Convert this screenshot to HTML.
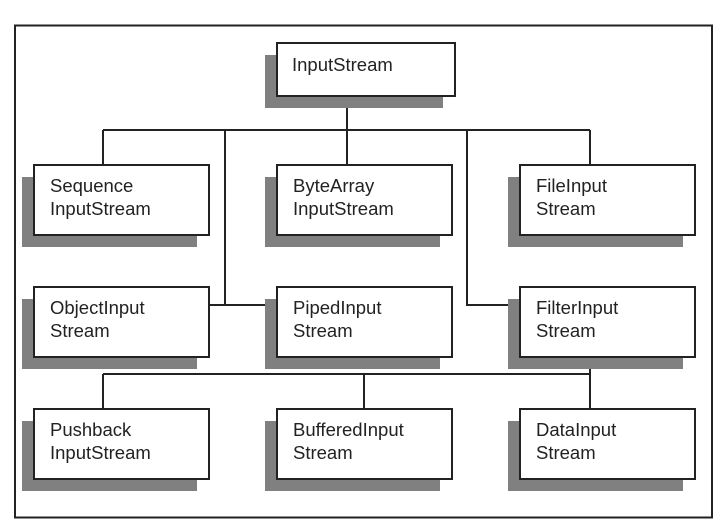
<!DOCTYPE html>
<html><head><meta charset="utf-8"><style>html,body{margin:0;padding:0;background:#fff}svg{display:block}</style></head><body>
<svg width="725" height="531" viewBox="0 0 725 531" xmlns="http://www.w3.org/2000/svg" font-family="Liberation Sans, sans-serif" font-size="18.5" fill="#222">
<rect x="15" y="25.5" width="697" height="492" fill="none" stroke="#222" stroke-width="2"/>
<g fill="none" stroke="#222" stroke-width="2">
<path d="M347 96V165M103 130H590M103 130V165M590 130V165M225 130V305M209 305H277M467 130V305H520M103 374H590M103 374V409M364 374V409M590 357V409"/>
</g>
<g fill="#808080">
<rect x="265" y="55" width="178" height="53"/>
<rect x="22" y="177" width="175" height="70"/><rect x="265" y="177" width="175" height="70"/><rect x="508" y="177" width="175" height="70"/>
<rect x="22" y="299" width="175" height="70"/><rect x="265" y="299" width="175" height="70"/><rect x="508" y="299" width="175" height="70"/>
<rect x="22" y="421" width="175" height="70"/><rect x="265" y="421" width="175" height="70"/><rect x="508" y="421" width="175" height="70"/>
</g>
<g fill="#fff" stroke="#222" stroke-width="2">
<rect x="277" y="43" width="178" height="53"/>
<rect x="34" y="165" width="175" height="70"/><rect x="277" y="165" width="175" height="70"/><rect x="520" y="165" width="175" height="70"/>
<rect x="34" y="287" width="175" height="70"/><rect x="277" y="287" width="175" height="70"/><rect x="520" y="287" width="175" height="70"/>
<rect x="34" y="409" width="175" height="70"/><rect x="277" y="409" width="175" height="70"/><rect x="520" y="409" width="175" height="70"/>
</g>
<text x="292" y="71">InputStream</text>
<text x="50" y="192">Sequence</text><text x="50" y="215">InputStream</text>
<text x="293" y="192">ByteArray</text><text x="293" y="215">InputStream</text>
<text x="536" y="192">FileInput</text><text x="536" y="215">Stream</text>
<text x="50" y="314">ObjectInput</text><text x="50" y="337">Stream</text>
<text x="293" y="314">PipedInput</text><text x="293" y="337">Stream</text>
<text x="536" y="314">FilterInput</text><text x="536" y="337">Stream</text>
<text x="50" y="436">Pushback</text><text x="50" y="459">InputStream</text>
<text x="293" y="436">BufferedInput</text><text x="293" y="459">Stream</text>
<text x="536" y="436">DataInput</text><text x="536" y="459">Stream</text>
</svg>
</body></html>
